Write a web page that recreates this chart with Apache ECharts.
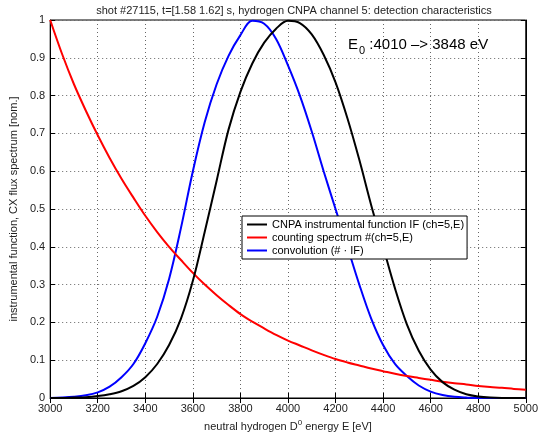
<!DOCTYPE html>
<html>
<head>
<meta charset="utf-8">
<script src="https://cdn.jsdelivr.net/npm/echarts@6/dist/echarts.min.js"></script>
<style>
  html, body { margin: 0; padding: 0; background: #fff; }
  #chart { width: 541px; height: 437px; }
</style>
</head>
<body>
<div id="chart"></div>
<script>
// energies [eV], every 50 eV
var energies = [3000, 3050, 3100, 3150, 3200, 3250, 3300, 3350, 3400, 3450,
  3500, 3550, 3600, 3650, 3700, 3750, 3800, 3850, 3900, 3950,
  4000, 4050, 4100, 4150, 4200, 4250, 4300, 4350, 4400, 4450,
  4500, 4550, 4600, 4650, 4700, 4750, 4800, 4850, 4900, 4950, 5000]

// CNPA instrumental function IF
var instrFunc = [0, 0, 0.001, 0.002, 0.005, 0.01, 0.018, 0.032, 0.055, 0.09,
  0.14, 0.21, 0.31, 0.44, 0.575, 0.71, 0.81, 0.885, 0.94, 0.977,
  0.998, 0.992, 0.962, 0.908, 0.835, 0.74, 0.63, 0.51, 0.4, 0.29,
  0.195, 0.125, 0.075, 0.042, 0.022, 0.01, 0.004, 0.001, 0, 0, 0]

// counting spectrum #
var counting = [1.0, 0.91, 0.83, 0.76, 0.695, 0.635, 0.58, 0.53, 0.482, 0.439,
  0.4, 0.365, 0.331, 0.3, 0.272, 0.246, 0.222, 0.202, 0.184, 0.167,
  0.152, 0.139, 0.126, 0.114, 0.103, 0.094, 0.086, 0.078, 0.071, 0.064,
  0.058, 0.053, 0.048, 0.043, 0.039, 0.036, 0.032, 0.029, 0.027, 0.024, 0.022]

// convolution (# . IF)
var convolution = [0, 0.001, 0.003, 0.007, 0.015, 0.03, 0.055, 0.09, 0.145, 0.215,
  0.315, 0.45, 0.6, 0.73, 0.83, 0.905, 0.96, 0.998, 0.99, 0.95,
  0.88, 0.8, 0.705, 0.6, 0.5, 0.4, 0.3, 0.21, 0.14, 0.09,
  0.058, 0.033, 0.017, 0.008, 0.003, 0.001, 0, 0, 0, 0, 0]

var seriesNames = ['CNPA instrumental function IF (ch=5,E)', 'counting spectrum #(ch=5,E)', 'convolution (# \u00b7 IF)']
var seriesColors = ['#000000', '#ff0000', '#0000ff']
var seriesValues = [instrFunc, counting, convolution]

var FONT = 'Liberation Sans, Arial, Helvetica, sans-serif'

function pairs(vals){
  return energies.map(function(e, i){ return [e, vals[i]] })
}

var chart = echarts.init(document.getElementById('chart'), null, { renderer: 'canvas' })

var gridLine = { show: true, lineStyle: { color: '#666', type: [1, 3], width: 1 } }
var tickIn = { show: true, inside: true, length: 5, lineStyle: { color: '#000' } }

var option = {
  backgroundColor: '#fff',
  animation: false,
  textStyle: { fontFamily: FONT },
  title: {
    text: 'shot #27115, t=[1.58 1.62] s, hydrogen CNPA channel 5: detection characteristics',
    left: 289, top: 0, textAlign: 'center',
    textStyle: { fontSize: 11, fontWeight: 'normal', color: '#222', fontFamily: FONT }
  },
  grid: { left: 47, right: 13, top: 20, bottom: 38, show: true, borderColor: '#000', borderWidth: 1 },
  legend: {
    data: seriesNames,
    orient: 'vertical',
    left: 242, top: 216,
    backgroundColor: '#fff',
    borderColor: '#000', borderWidth: 1,
    padding: [3, 3, 3, 5],
    itemGap: 2,
    itemWidth: 20, itemHeight: 2,
    icon: 'rect',
    textStyle: { fontSize: 11, color: '#000', fontFamily: FONT }
  },
  xAxis: [{
    type: 'value', min: 3000, max: 5000, interval: 200,
    name: '{n|neutral hydrogen D}{s|0}{n| energy E [eV]}',
    nameLocation: 'middle', nameGap: 21,
    nameTextStyle: { rich: {
      n: { fontSize: 11, color: '#222', fontFamily: FONT },
      s: { fontSize: 8, color: '#222', fontFamily: FONT, verticalAlign: 'bottom', padding: [0, 0, 7, 0] }
    } },
    axisLine: { show: true, lineStyle: { color: '#000', width: 1 } },
    axisTick: tickIn,
    axisLabel: { fontSize: 11, color: '#222', margin: 5, fontFamily: FONT,
      formatter: function(v){ return String(v) } },
    splitLine: gridLine
  }, {
    type: 'value', min: 3000, max: 5000, interval: 200, position: 'top',
    axisLine: { show: true, lineStyle: { color: '#000', width: 1 } },
    axisTick: tickIn, axisLabel: { show: false }, splitLine: { show: false }
  }],
  yAxis: [{
    type: 'value', min: 0, max: 1, interval: 0.1,
    name: 'instrumental function, CX flux spectrum [nom.]',
    nameLocation: 'middle', nameGap: 30,
    nameTextStyle: { fontSize: 11, color: '#222', fontFamily: FONT },
    axisLine: { show: true, lineStyle: { color: '#000', width: 1 } },
    axisTick: tickIn,
    axisLabel: { fontSize: 11, color: '#222', margin: 5, fontFamily: FONT,
      formatter: function(v){ return String(Math.round(v * 10) / 10) } },
    splitLine: gridLine
  }, {
    type: 'value', min: 0, max: 1, interval: 0.1, position: 'right',
    axisLine: { show: true, lineStyle: { color: '#000', width: 1 } },
    axisTick: tickIn, axisLabel: { show: false }, splitLine: { show: false }
  }],
  graphic: [{
    type: 'text', left: 348, top: 37, z: 100,
    style: {
      text: '{e|E}{s|0}{e| :4010 \u2013> 3848 eV}',
      rich: {
        e: { fontSize: 15, fill: '#000', fontFamily: FONT },
        s: { fontSize: 11, fill: '#000', fontFamily: FONT, verticalAlign: 'top', padding: [12, 0, 0, 1] }
      }
    }
  }],
  series: seriesNames.map(function(name, i){
    return {
      name: name, type: 'line',
      data: pairs(seriesValues[i]),
      smooth: 0.35,
      showSymbol: false, symbol: 'none',
      color: seriesColors[i],
      lineStyle: { color: seriesColors[i], width: 2 },
      z: 3 - i
    }
  })
}

chart.setOption(option)
</script>
</body>
</html>
